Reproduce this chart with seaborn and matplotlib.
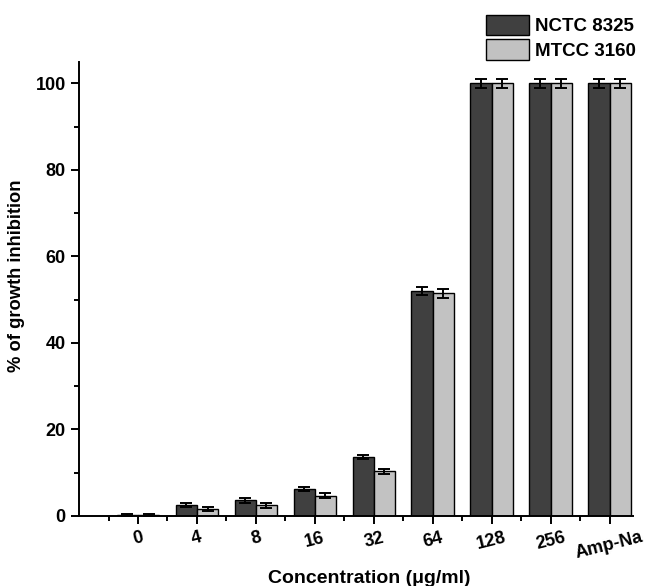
import numpy as np
import pandas as pd
import matplotlib
matplotlib.use("Agg")
import matplotlib.pyplot as plt
import seaborn as sns
from matplotlib.ticker import MultipleLocator, FixedLocator
from matplotlib.patches import Patch

# --- DATA ---
concentrations = ["0", "4", "8", "16", "32", "64", "128", "256", "Amp-Na"]
strains = ["NCTC 8325", "MTCC 3160"]
nctc_mean = [0.2, 2.6, 3.6, 6.3, 13.7, 52.0, 100.0, 100.0, 100.0]
nctc_err = [0.3, 0.5, 0.5, 0.5, 0.5, 1.0, 1.0, 1.0, 1.0]
mtcc_mean = [0.2, 1.6, 2.5, 4.7, 10.3, 51.5, 100.0, 100.0, 100.0]
mtcc_err = [0.3, 0.5, 0.6, 0.5, 0.5, 1.0, 1.0, 1.0, 1.0]

df = pd.DataFrame({
    "conc": concentrations * 2,
    "strain": [strains[0]] * len(concentrations) + [strains[1]] * len(concentrations),
    "value": nctc_mean + mtcc_mean,
    "err": nctc_err + mtcc_err,
})

sns.set_style("ticks", {"axes.edgecolor": "black", "text.color": "black",
                        "axes.labelcolor": "black", "xtick.color": "black",
                        "ytick.color": "black"})
plt.rcParams['font.family'] = ['Liberation Sans', 'DejaVu Sans']

fig = plt.figure(figsize=(6.48, 5.86), dpi=100)
ax = fig.add_axes([0.122, 0.1195, 0.855, 0.775])

palette = {strains[0]: "#404040", strains[1]: "#c2c2c2"}
sns.barplot(data=df, x="conc", y="value", hue="strain", order=concentrations,
            hue_order=strains, palette=palette, errorbar=None, width=0.72,
            edgecolor="black", linewidth=1.0, saturation=1, legend=False, ax=ax)

# error bars on top of each bar (patches follow hue order, then category order)
bars = ax.patches[:len(df)]
for p, v, e in zip(bars, df["value"], df["err"]):
    xc = p.get_x() + p.get_width() / 2
    ax.errorbar(xc, v, yerr=e, fmt="none", ecolor="black", elinewidth=1.4,
                capsize=4, capthick=1.4)

ax.set_xlim(-1, 8.4)
ax.set_ylim(0, 105)
ax.yaxis.set_major_locator(MultipleLocator(20))
ax.yaxis.set_minor_locator(MultipleLocator(10))
ax.xaxis.set_minor_locator(FixedLocator(np.arange(-0.5, 8, 1.0)))

for s in ["top", "right"]:
    ax.spines[s].set_visible(False)
for s in ["left", "bottom"]:
    ax.spines[s].set_linewidth(1.4)
ax.tick_params(axis="both", which="major", length=6, width=1.4, direction="out")
ax.tick_params(axis="both", which="minor", length=3.5, width=1.4, direction="out")

ax.set_xticks(range(len(concentrations)))
ax.set_xticklabels(concentrations, rotation=14, fontsize=13, fontweight="bold")
for lbl in ax.get_yticklabels():
    lbl.set_fontsize(13)
    lbl.set_fontweight("bold")

ax.set_xlabel("Concentration (μg/ml)", fontsize=14, fontweight="bold")
ax.set_ylabel("% of growth inhibition", fontsize=13.2, fontweight="bold")
ax.xaxis.set_label_coords(0.523, -0.119)
ax.yaxis.set_label_coords(-0.097, 0.529)

handles = [Patch(facecolor=palette[s], edgecolor="black", linewidth=1.0) for s in strains]
fig.legend(handles, strains, loc="upper left", bbox_to_anchor=(0.75, 0.975),
           frameon=False, handlelength=2.3, handleheight=1.29, handletextpad=0.32,
           labelspacing=0.22, borderpad=0, borderaxespad=0,
           prop={"size": 13.5, "weight": "bold"})

plt.savefig("out.png", dpi=100)
plt.close()
